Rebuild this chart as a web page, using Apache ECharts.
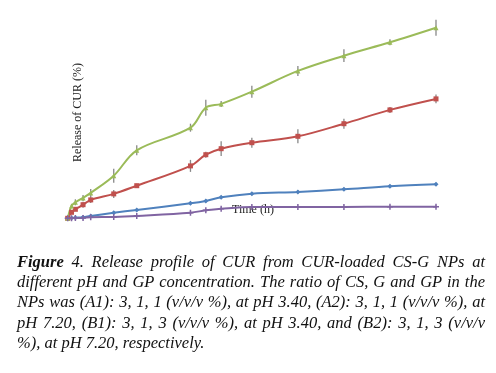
<!DOCTYPE html>
<html><head><meta charset="utf-8">
<script src="https://cdn.jsdelivr.net/npm/echarts@6/dist/echarts.min.js"></script>
<style>
html,body{margin:0;padding:0;background:#fff;}
#wrap{position:relative;width:496px;height:373px;}
#chart{position:absolute;left:0;top:0;width:496px;height:373px;}
#cap{position:absolute;left:17px;top:252px;width:468px;font-family:"Liberation Serif",serif;font-style:italic;font-size:16.5px;line-height:20.2px;color:#111;}
#cap div{text-align:justify;text-align-last:justify;white-space:nowrap;}
#cap div.last{text-align-last:left;}
</style></head>
<body><div id="wrap"><div id="chart"></div><div id="cap"></div></div>
<script>
const times = [0, 0.5, 1, 2, 3, 6, 9, 16, 18, 20, 24, 30, 36, 42, 48];
const seriesNames = ['A1', 'A2', 'B1', 'B2'];
const valA1 = [0, 0.2, 0.3, 0.5, 1.2, 2.8, 4.2, 7.5, 8.7, 10.5, 12.3, 13.2, 14.5, 16, 17];
const valA2 = [0, 3, 4.5, 6.8, 9.2, 12.2, 16.3, 26.2, 31.8, 34.8, 37.8, 41, 47.3, 54.2, 59.7];
const valB1 = [0, 6.2, 8, 10.2, 12.7, 21.3, 34, 45.3, 55.3, 57.2, 63.3, 73.7, 81.3, 88, 95.3];
const valB2 = [0, 0, 0.1, 0.2, 0.5, 0.7, 1.2, 2.8, 4, 4.8, 5.7, 5.7, 5.7, 5.8, 5.8];
const errA1 = [0, 0.5, 0.5, 0.6, 0.7, 0.7, 0.7, 0.8, 0.8, 0.8, 0.8, 0.8, 0.8, 0.8, 0.8];
const errA2 = [0, 0.5, 0.5, 1.5, 1.5, 2, 1, 3, 1.5, 3.7, 2.5, 3.5, 2.5, 1.5, 2.2];
const errB1 = [0, 1, 1.5, 1.5, 2, 3.5, 2.5, 2, 4, 1.5, 3, 2.5, 3.2, 1.5, 4];
const errB2 = [0, 0.4, 0.4, 0.4, 0.4, 0.4, 0.4, 0.6, 0.6, 0.6, 0.6, 0.6, 0.6, 0.6, 0.6];
const yAxisTitle = 'Release of CUR (%)';
const xAxisTitle = 'Time (h)';
const captionLines = [
  '<b>Figure</b> 4. Release profile of CUR from CUR-loaded CS-G NPs at',
  'different pH and GP concentration. The ratio of CS, G and GP in the',
  'NPs was (A1): 3, 1, 1 (v/v/v %), at pH 3.40, (A2): 3, 1, 1 (v/v/v %), at',
  'pH 7.20, (B1): 3, 1, 3 (v/v/v %), at pH 3.40, and (B2): 3, 1, 3 (v/v/v',
  '%), at pH 7.20, respectively.'
];

document.getElementById('cap').innerHTML = captionLines.map((l, i) =>
  '<div' + (i === captionLines.length - 1 ? ' class="last"' : '') + '>' + l + '</div>').join('');

const colors = ['#4F81BD', '#C0504D', '#9BBB59', '#8064A2'];
const symbols = ['diamond', 'rect', 'triangle', 'path://M0,5L10,5M5,0L5,10'];
const symSizes = [5, 5, 5, 6];
const vals = [valA1, valA2, valB1, valB2];
const errs = [errA1, errA2, errB1, errB2];

const chart = echarts.init(document.getElementById('chart'), null, {renderer: 'canvas'});
const series = [];
vals.forEach((v, i) => {
  series.push({
    type: 'custom', name: seriesNames[i] + ' err', silent: true, z: 1,
    data: times.map((t, j) => [t, v[j], errs[i][j]]),
    renderItem: (params, api) => {
      const x = api.value(0), y = api.value(1), e = api.value(2);
      if (!e) return null;
      const p1 = api.coord([x, y + e]), p2 = api.coord([x, y - e]);
      return {type: 'line', shape: {x1: p1[0], y1: p1[1], x2: p2[0], y2: p2[1]},
        style: {stroke: '#888', lineWidth: 1.3}};
    }
  });
});
vals.forEach((v, i) => {
  series.push({
    type: 'line', name: seriesNames[i], smooth: 0.35, z: 3,
    data: times.map((t, j) => [t, v[j]]),
    symbol: symbols[i], symbolSize: symSizes[i], showSymbol: true,
    lineStyle: {color: colors[i], width: 2},
    itemStyle: {color: colors[i], borderColor: colors[i], borderWidth: i === 3 ? 1.5 : 0}
  });
});

chart.setOption({
  animation: false,
  backgroundColor: '#fff',
  grid: {left: 67.7, right: 60, top: 18.3, bottom: 154.7},
  xAxis: {type: 'value', min: 0, max: 48, show: false},
  yAxis: {type: 'value', min: 0, max: 100, show: false},
  graphic: [
    {type: 'text', left: 72, top: 63, rotation: Math.PI / 2,
      style: {text: yAxisTitle, font: '12px "Liberation Serif"', fill: '#222'}},
    {type: 'text', left: 232, top: 204,
      style: {text: xAxisTitle, font: '12px "Liberation Serif"', fill: '#222'}}
  ],
  series: series
});
</script></body></html>
